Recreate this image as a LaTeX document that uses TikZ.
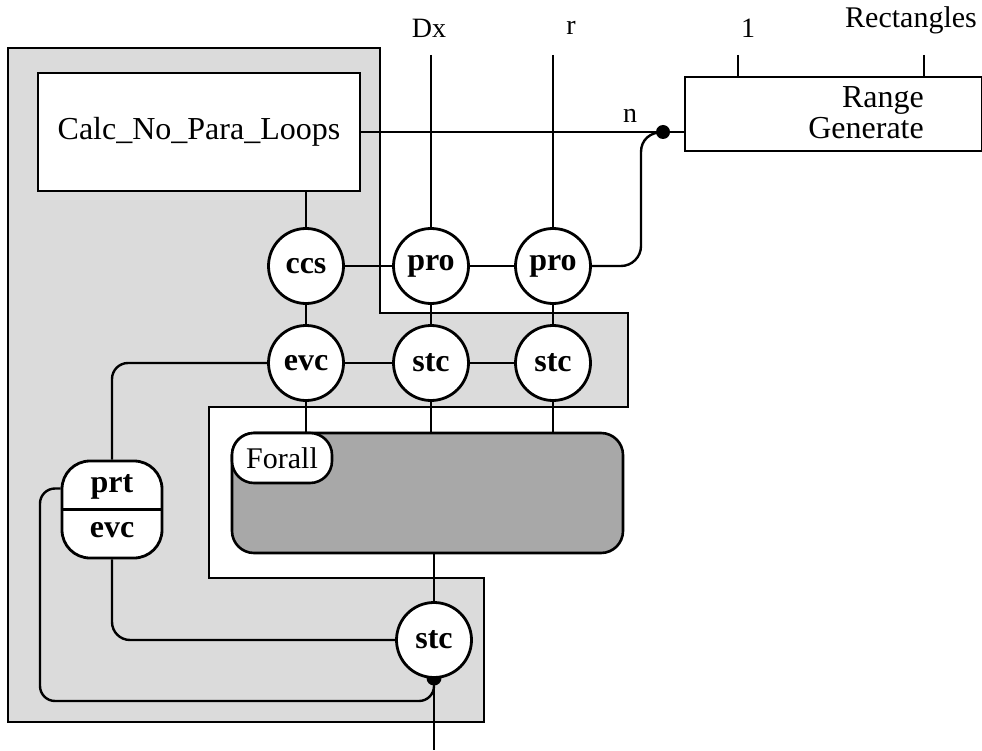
\documentclass[tikz,border=0pt]{standalone}
\usepackage{fontspec}
\setmainfont{Liberation Serif}
\usetikzlibrary{calc}
\begin{document}
\begin{tikzpicture}[x=1pt,y=-1pt,
  conn/.style={line width=2.4pt},
  thinline/.style={line width=1.8pt},
  circ/.style={circle,draw,line width=2.8pt,fill=white,minimum size=75pt,inner sep=0pt,font=\bfseries\fontsize{32}{36}\selectfont},
  box/.style={rectangle,draw,line width=2.6pt,fill=white},
  lbl/.style={font=\fontsize{28}{32}\selectfont,inner sep=0pt},
  region/.style={draw,line width=2.4pt,fill=black!14},
  jdot/.style={circle,fill=black,minimum size=14pt,inner sep=0pt},
  boldlbl/.style={font=\bfseries\fontsize{32}{36}\selectfont,inner sep=0pt}
]
\useasboundingbox (0,0) rectangle (982,751);
\fill[white] (0,0) rectangle (982,751);
% shaded region
\path[region] (8,48) -- (380,48) -- (380,313) -- (628,313) -- (628,407) -- (209,407) -- (209,578) -- (484,578) -- (484,722) -- (8,722) -- cycle;

% Forall
\node[draw,line width=2.6pt,fill=black!34,rounded corners=22,minimum width=391,minimum height=120,inner sep=0pt] (fa) at (427.5,493) {};
\node[draw,line width=2.6pt,fill=white,rounded corners=22,minimum width=100,minimum height=50,inner sep=0pt,anchor=north west,font=\fontsize{30}{34}\selectfont] (fal) at (fa.north west) {Forall};

% boxes
\node[box,minimum width=322,minimum height=118,font=\fontsize{32}{36}\selectfont] (calc) at (199,132) {Calc\_No\_Para\_Loops};
\node[box,minimum width=297,minimum height=74] (rg) at (833.5,114) {};
\node[anchor=east,align=right,font=\fontsize{32}{31}\selectfont,inner sep=0pt] (rgt) at (924,113) {Range\\Generate};

% circles
\node[circ] (ccs) at (306,266) {ccs};
\node[circ] (pro1) at (431,266) {pro};
\node[circ] (pro2) at (553,266) {pro};
\node[circ] (evc) at (306,363) {evc};
\node[circ] (stc1) at (431,363) {stc};
\node[circ] (stc2) at (553,363) {stc};
\fill (434,678) circle (7.5);
\node[circ] (stc3) at (434,640) {stc};
\node[jdot] (jn) at (663,132) {};

% prt / evc
\node[draw,line width=2.8pt,fill=white,rounded corners=28,minimum width=100,minimum height=97,inner sep=0pt] (pe) at (112,509.5) {};
\draw[line width=2.8pt] (pe.west) -- (pe.east);
\node[boldlbl] (pet) at (112,487) {prt};
\node[boldlbl] (peb) at (112,530) {evc};

% labels
\node[lbl] (ldx) at (429,28) {Dx};
\node[lbl] (lr) at (571,28) {r};
\node[lbl] (l1) at (748,28) {1};
\node[lbl,font=\fontsize{30}{34}\selectfont] (lrect) at (911,20) {Rectangles};
\node[lbl] (ln) at (630,116) {n};

% free ends
\coordinate (dxe) at (431,55);
\coordinate (re) at (553,55);
\coordinate (t1) at (738,55);
\coordinate (t2) at (924,55);
\coordinate (outb) at (434,750);

% connectors
\draw[thinline] (dxe) -- (pro1.north);
\draw[thinline] (re) -- (pro2.north);
\draw[thinline] (t1) -- (t1 |- rg.north);
\draw[thinline] (t2) -- (t2 |- rg.north);
\draw[conn] (calc) -- (jn);
\draw[conn] (jn) -- (jn -| rg.west);
\draw[conn] (ccs.north) -- (ccs.north |- calc.south);
\draw[conn] (ccs) -- (pro1);
\draw[conn] (pro1) -- (pro2);
\draw[conn] (ccs) -- (evc);
\draw[conn] (pro1) -- (stc1);
\draw[conn] (pro2) -- (stc2);
\draw[conn] (evc) -- (stc1);
\draw[conn] (stc1) -- (stc2);
\draw[conn] (evc.south) -- (evc.south |- fa.north);
\draw[conn] (stc1.south) -- (stc1.south |- fa.north);
\draw[conn] (stc2.south) -- (stc2.south |- fa.north);
\draw[conn] (stc3.north |- fa.south) -- (stc3.north);
\draw[conn] (pro2.east) -- (621,266) .. controls (632,266) and (641,257) .. (641,246) -- (641,152) .. controls (641,140) and (650,132) .. (jn.center);
\draw[conn,rounded corners=16] (evc.west) -| (pe.north);
\draw[conn,rounded corners=18] (pe.south) |- (stc3.west);
\draw[conn,rounded corners=15] ($(pe.west)+(0,-21)$) -| (40,701) -| (stc3.south);
\draw[conn] (stc3.south) -- (outb);
\end{tikzpicture}
\end{document}
